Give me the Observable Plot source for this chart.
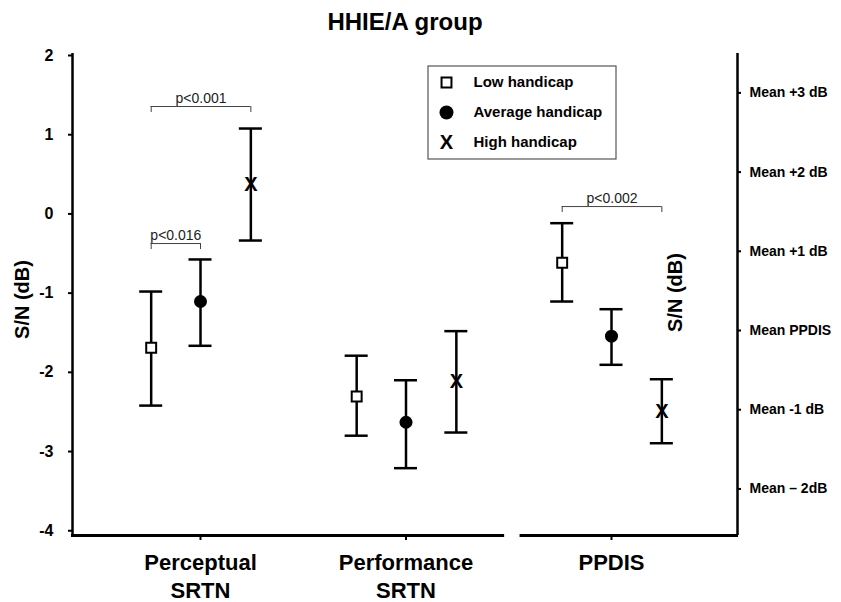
<!DOCTYPE html>
<html><head><meta charset="utf-8">
<script src="https://cdn.jsdelivr.net/npm/d3@7"></script>
<script src="https://cdn.jsdelivr.net/npm/@observablehq/plot@0.6"></script>
<style>body{margin:0;background:#fff;}</style>
</head><body><div id="chart"></div>
<script>
// ---- data ----
const categories = ["Perceptual\nSRTN", "Performance\nSRTN", "PPDIS"];
const series = ["Low handicap", "Average handicap", "High handicap"];
const lowMean  = [-1.69, -2.305, -0.617];
const lowLo    = [-2.42, -2.80, -1.106];
const lowHi    = [-0.98, -1.79, -0.117];
const avgMean  = [-1.106, -2.63, -1.544];
const avgLo    = [-1.665, -3.21, -1.905];
const avgHi    = [-0.575, -2.10, -1.203];
const highMean = [0.371, -2.116, -2.49];
const highLo   = [-0.336, -2.76, -2.895];
const highHi   = [1.078, -1.48, -2.087];
const leftTicks = [-4, -3, -2, -1, 0, 1, 2];
const meanPPDIS = -1.472;
const rightOffsets = [-2, -1, 0, 1, 2, 3];
const rightLabels = ["Mean \u2013 2dB", "Mean -1 dB", "Mean PPDIS", "Mean +1 dB", "Mean +2 dB", "Mean +3 dB"];
const brackets = [
  {label: "p<0.001", group: 0, from: "Low handicap", to: "High handicap", y: 1.356},
  {label: "p<0.016", group: 0, from: "Low handicap", to: "Average handicap", y: -0.374},
  {label: "p<0.002", group: 2, from: "Low handicap", to: "High handicap", y: 0.093}
];

// ---- layout ----
const W = 841, H = 602, mL = 72, mR = 104, mT = 55, mB = 67;
const g0px = 200, gStep = 205.5;
const xDomain = [(mL - g0px) / gStep, (W - mR - g0px) / gStep];
const yDomain = [-4.06, 2];
const offset = {"Low handicap": -0.24, "Average handicap": 0, "High handicap": 0.245};
const cap = 0.056, leg = 0.076;
const breakL = 1.48, breakR = 1.555;

const means = [lowMean, avgMean, highMean], los = [lowLo, avgLo, highLo], his = [lowHi, avgHi, highHi];
const rows = [];
series.forEach((s, si) => categories.forEach((c, gi) => rows.push({series: s, group: gi, mean: means[si][gi], lo: los[si][gi], hi: his[si][gi]})));
const xp = d => d.group + offset[d.series];
const rightTicks = rightOffsets.map(k => meanPPDIS + k);
const bx1 = b => b.group + offset[b.from], bx2 = b => b.group + offset[b.to];

const font = "'Liberation Sans', Arial, Helvetica, sans-serif";
const legendMarks = series.map((s, i) => Plot.text([s], {text: d => d, frameAnchor: "top-left", dx: 401, dy: 27 + 30 * i, textAnchor: "start", lineAnchor: "middle", fontSize: 15, fontWeight: "bold"}));
const plot = Plot.plot({
  width: W, height: H, marginLeft: mL, marginRight: mR, marginTop: mT, marginBottom: mB,
  x: {domain: xDomain}, y: {domain: yDomain},
  style: {fontFamily: font, background: "white", color: "black"},
  marks: [
    // axis lines
    Plot.ruleX([{x: xDomain[0]}], {x: "x", y1: () => yDomain[0], y2: () => 2.025, strokeWidth: 2.5}),
    Plot.ruleX([{x: xDomain[1]}], {x: "x", y1: () => yDomain[0], y2: () => 2.025, strokeWidth: 2.5}),
    Plot.ruleY([{x1: xDomain[0] - 0.005, x2: breakL}, {x1: breakR, x2: xDomain[1] + 0.005}], {y: () => yDomain[0], x1: "x1", x2: "x2", strokeWidth: 2.8}),
    Plot.axisY({anchor: "left", ticks: leftTicks, tickFormat: d => (d < 0 ? "-" + Math.abs(d) : String(d)), tickSize: 4, tickPadding: 15, fontSize: 16, fontWeight: "bold", strokeWidth: 2, label: null}),
    Plot.axisY({anchor: "right", ticks: rightTicks, tickFormat: d => rightLabels[rightTicks.indexOf(d)], tickSize: 3, tickPadding: 9, fontSize: 14, fontWeight: "bold", strokeWidth: 2, label: null}),
    Plot.axisX({ticks: [0, 1, 2], tickFormat: d => categories[d], tickSize: 5, tickPadding: 10, fontSize: 22, fontWeight: "bold", lineHeight: 1.27, strokeWidth: 2, label: null}),
    // titles
    Plot.text(["HHIE/A group"], {text: d => d, frameAnchor: "top", dy: -33, lineAnchor: "middle", textAnchor: "middle", fontSize: 24, fontWeight: "bold"}),
    Plot.text(["S/N (dB)"], {text: d => d, frameAnchor: "left", dx: -50, dy: 4, rotate: -90, textAnchor: "middle", lineAnchor: "middle", fontSize: 20, fontWeight: "bold"}),
    Plot.text(["S/N (dB)"], {text: d => d, frameAnchor: "right", dx: -62, dy: -3, rotate: -90, textAnchor: "middle", lineAnchor: "middle", fontSize: 20, fontWeight: "bold"}),
    // brackets
    Plot.ruleY(brackets, {y: "y", x1: bx1, x2: bx2, stroke: "#444", strokeWidth: 1}),
    Plot.ruleX(brackets, {x: bx1, y1: "y", y2: b => b.y - leg, stroke: "#444", strokeWidth: 1}),
    Plot.ruleX(brackets, {x: bx2, y1: "y", y2: b => b.y - leg, stroke: "#444", strokeWidth: 1}),
    Plot.text(brackets, {x: b => (bx1(b) + bx2(b)) / 2, y: "y", text: "label", lineAnchor: "bottom", dy: -4, fontSize: 14, fill: "#222"}),
    // error bars
    Plot.ruleX(rows, {x: xp, y1: "lo", y2: "hi", strokeWidth: 2.5}),
    Plot.ruleY(rows, {y: "lo", x1: d => xp(d) - cap, x2: d => xp(d) + cap, strokeWidth: 2.5}),
    Plot.ruleY(rows, {y: "hi", x1: d => xp(d) - cap, x2: d => xp(d) + cap, strokeWidth: 2.5}),
    // markers
    Plot.dot(rows.filter(d => d.series === series[0]), {x: xp, y: "mean", symbol: "square", r: 5.6, fill: "white", stroke: "black", strokeWidth: 2}),
    Plot.dot(rows.filter(d => d.series === series[1]), {x: xp, y: "mean", r: 6.5, fill: "black"}),
    Plot.text(rows.filter(d => d.series === series[2]), {x: xp, y: "mean", text: () => "X", fontSize: 20, fontWeight: "bold", fill: "black"}),
    // legend entries
    Plot.dot([0], {frameAnchor: "top-left", dx: 374, dy: 27, symbol: "square", r: 5.6, fill: "white", stroke: "black", strokeWidth: 2}),
    Plot.dot([0], {frameAnchor: "top-left", dx: 374, dy: 57, r: 7, fill: "black"}),
    Plot.text(["X"], {text: d => d, frameAnchor: "top-left", dx: 374, dy: 87, textAnchor: "middle", lineAnchor: "middle", fontSize: 20, fontWeight: "bold"}),
    ...legendMarks
  ]
});
// legend box
d3.select(plot).append("rect").attr("x", 428).attr("y", 66).attr("width", 188).attr("height", 93)
  .attr("fill", "none").attr("stroke", "#555").attr("stroke-width", 1.2);
document.getElementById("chart").append(plot);
</script>
</body></html>
